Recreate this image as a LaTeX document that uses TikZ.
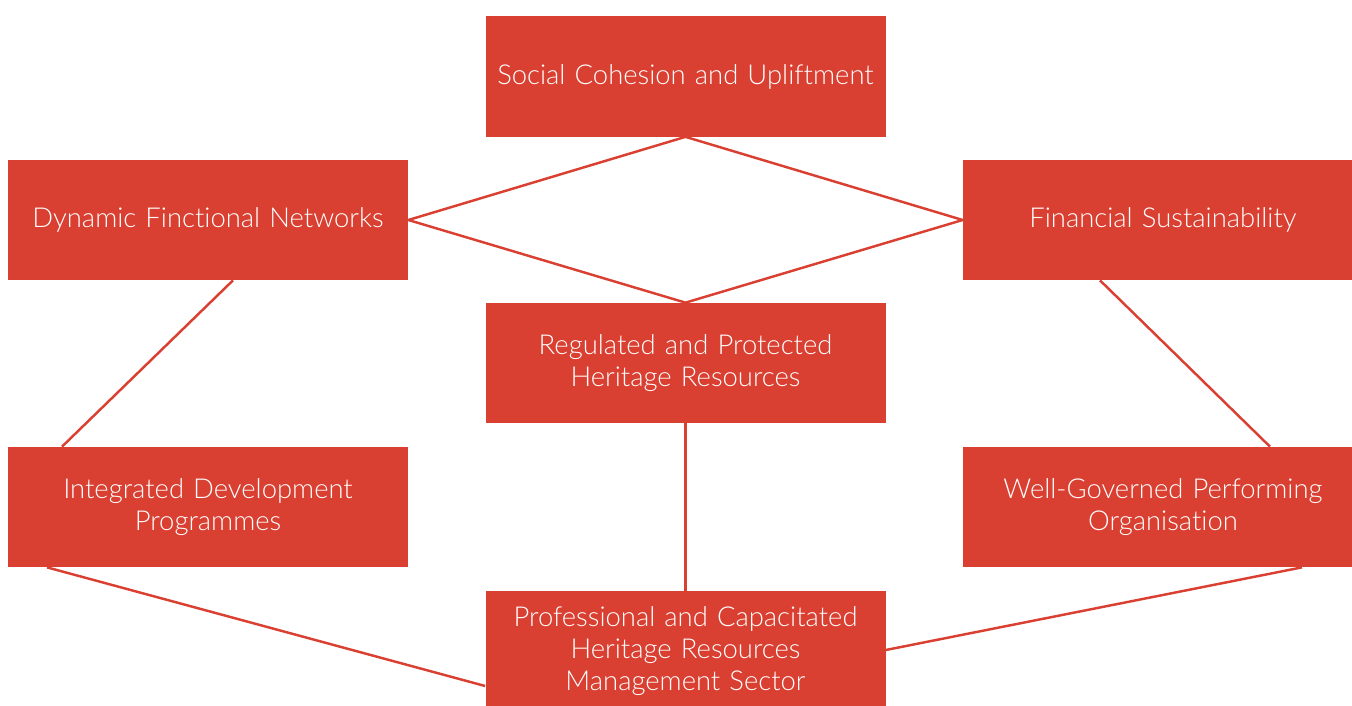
\documentclass[tikz,border=0pt]{standalone}
\usepackage{fontspec}
\setmainfont{Lato}[UprightFont={* Light}, Ligatures={NoCommon}]
\usepackage{tikz}
\usetikzlibrary{calc}
\usetikzlibrary{positioning}

\definecolor{boxred}{HTML}{DA4032}

\tikzset{
    goal/.style={rectangle, fill=boxred, text=white, minimum width=8cm, minimum height=2.4cm, text width=7.8cm, align=center, inner sep=0pt, font=\fontsize{15.6}{18.2}\selectfont},
    link/.style={draw=boxred, line width=1.4pt}
}

\begin{document}
\begin{tikzpicture}
    \useasboundingbox (0,0) rectangle (27.04,14.1);
    \begin{scope}
    \clip (0,0) rectangle (27.04,14.1);
    \node [goal] (cohesion) at (13.71, 12.57) {Social Cohesion and Upliftment};
    \node [goal] (networks) at (4.16, 9.70) {Dynamic Finctional Networks};
    \node [goal] (finance) at (23.26, 9.70) {Financial Sustainability};
    \node [goal] (regulated) at (13.71, 6.84) {Regulated and Protected\\Heritage Resources};
    \node [goal] (programmes) at (4.16, 3.96) {Integrated Development\\Programmes};
    \node [goal] (organisation) at (23.26, 3.96) {Well-Governed Performing\\Organisation};
    \node [goal, anchor=north] (sector) at (13.71, 2.28) {Professional and Capacitated\\Heritage Resources\\Management Sector};

    % diamond between the upper four
    \draw [link] (cohesion.south) -- (networks.east) -- (regulated.north) -- (finance.west) -- cycle;

    \draw [link] ($(networks.south)+(0.5,0)$) -- ($(programmes.north)+(-2.92,0)$);
    \draw [link] ($(finance.south)+(-1.26,0)$) -- ($(organisation.north)+(2.14,0)$);
    \draw [link] (regulated.south) -- (sector.north);
    \draw [link] ($(programmes.south)+(-3.22,0)$) -- ($(sector.north west)+(0,-1.9)$);
    \draw [link] ($(organisation.south)+(2.78,0)$) -- ($(sector.north east)+(0,-1.18)$);
    \end{scope}
\end{tikzpicture}
\end{document}
